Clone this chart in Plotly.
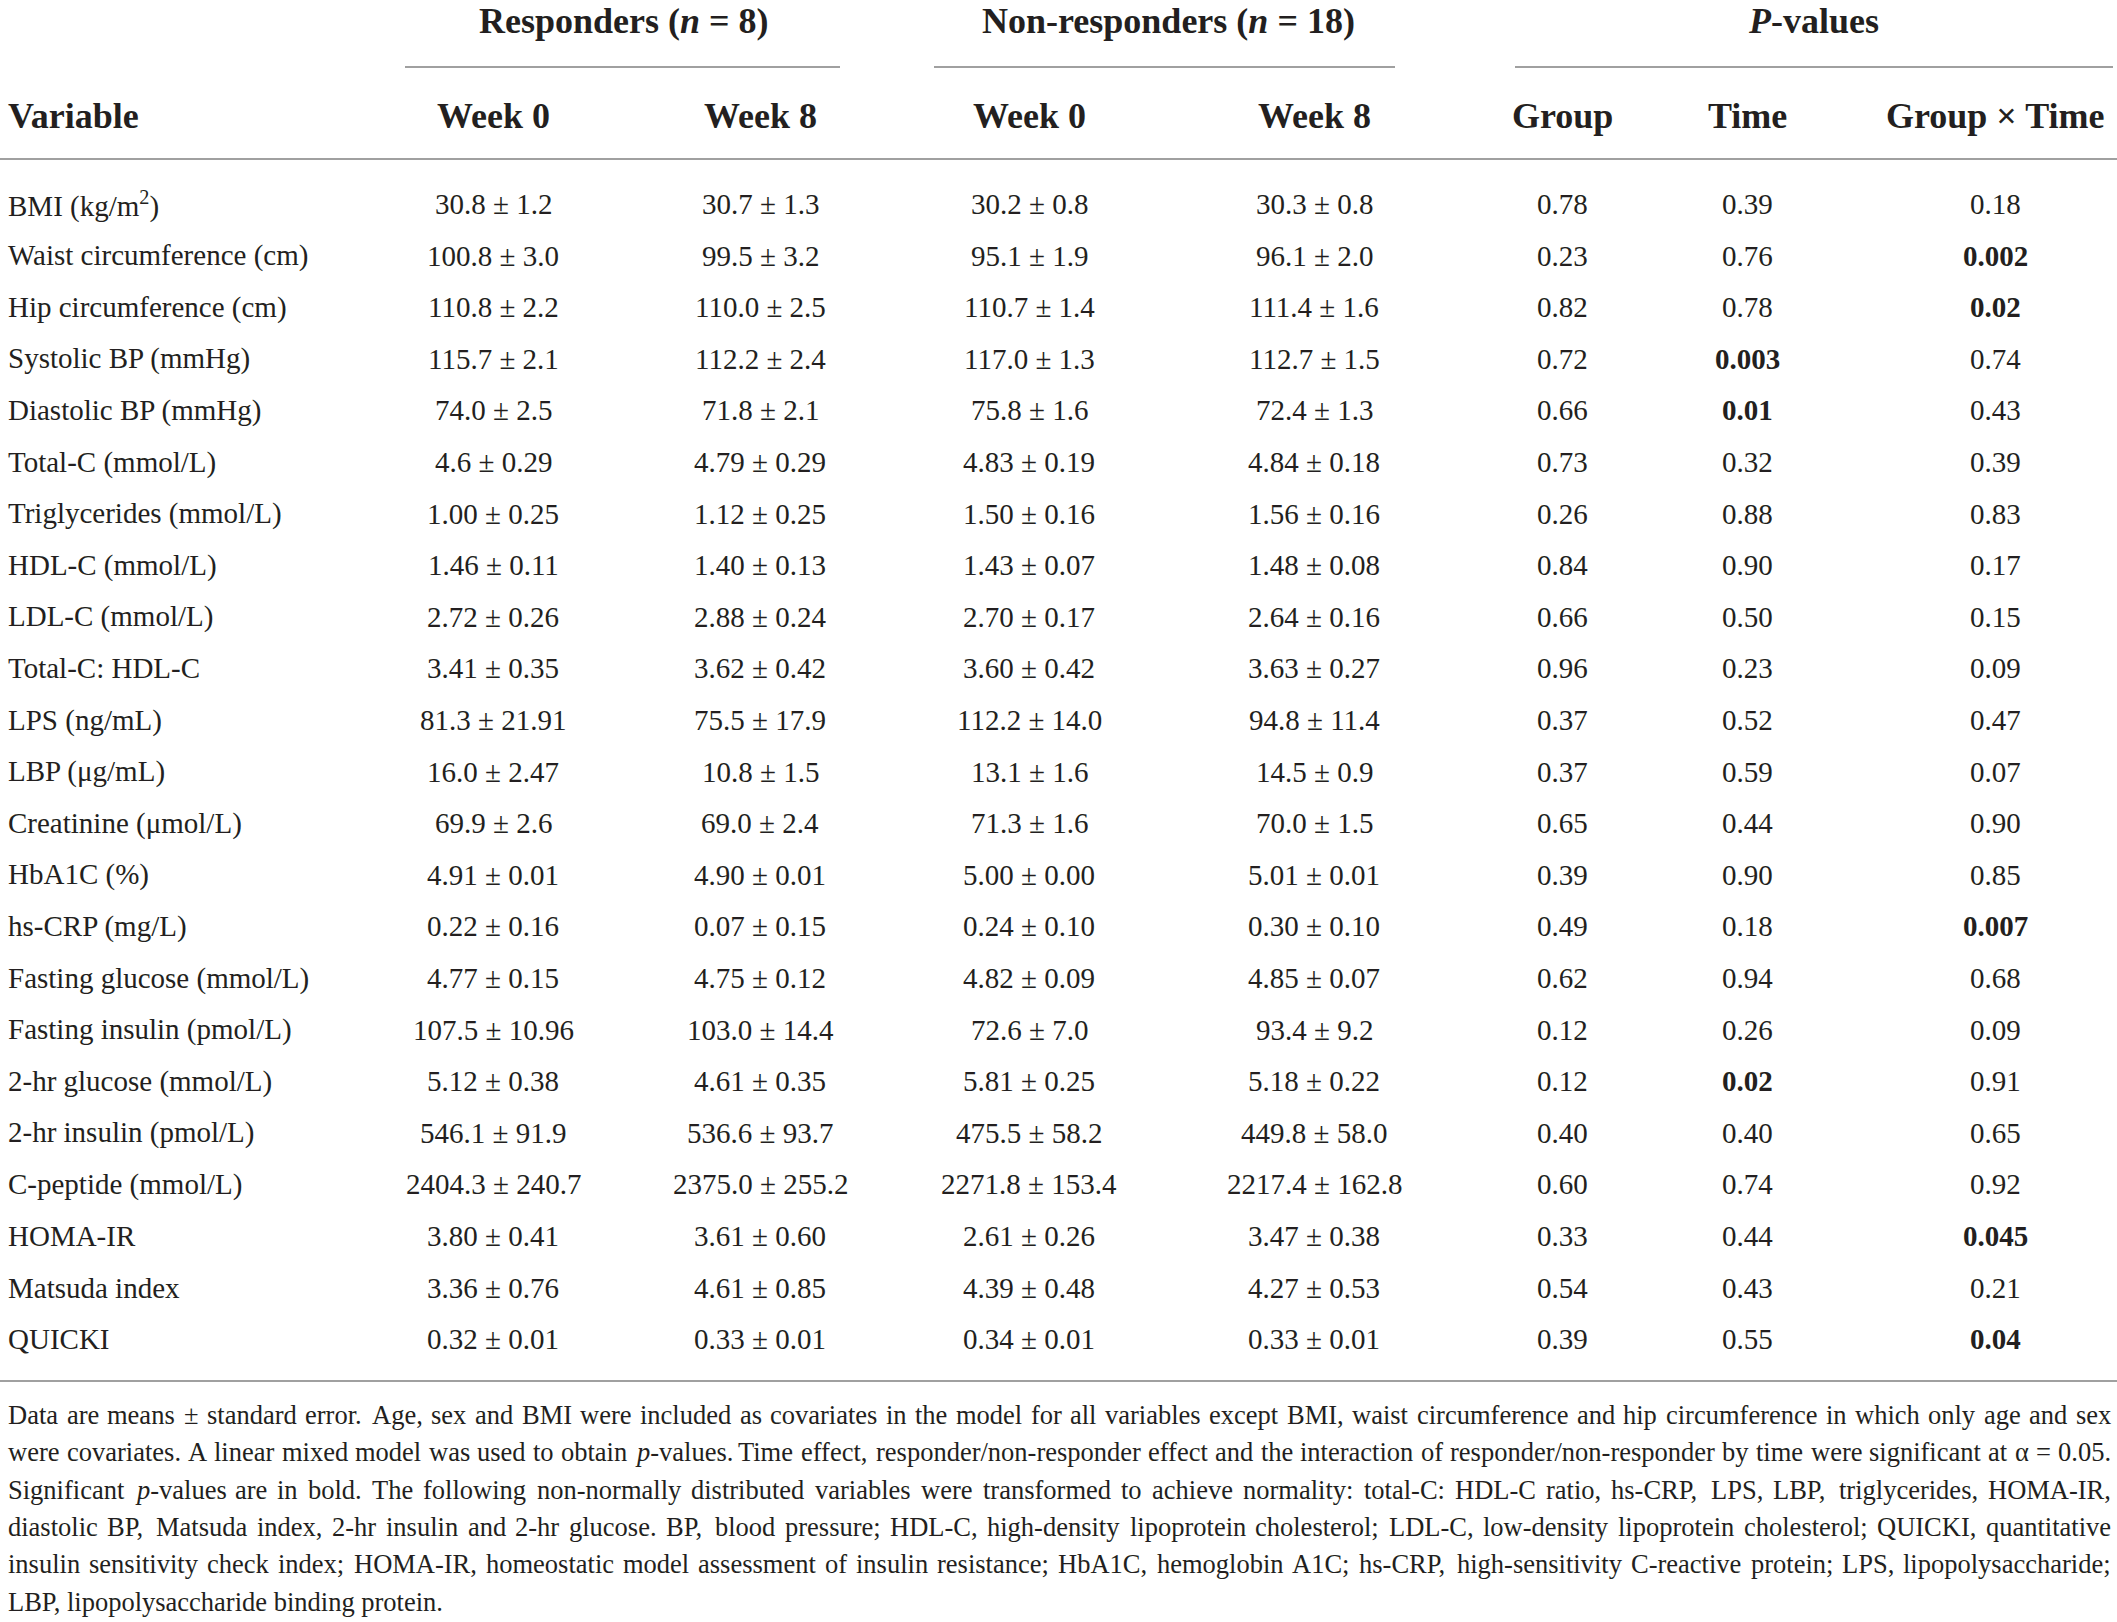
import re
import plotly.graph_objects as go

# ---------------- data ----------------
variables = [
    "BMI (kg/m<sup>2</sup>)", "Waist circumference (cm)", "Hip circumference (cm)",
    "Systolic BP (mmHg)", "Diastolic BP (mmHg)", "Total-C (mmol/L)",
    "Triglycerides (mmol/L)", "HDL-C (mmol/L)", "LDL-C (mmol/L)", "Total-C: HDL-C",
    "LPS (ng/mL)", "LBP (μg/mL)", "Creatinine (μmol/L)", "HbA1C (%)", "hs-CRP (mg/L)",
    "Fasting glucose (mmol/L)", "Fasting insulin (pmol/L)", "2-hr glucose (mmol/L)",
    "2-hr insulin (pmol/L)", "C-peptide (mmol/L)", "HOMA-IR", "Matsuda index", "QUICKI",
]
resp_w0 = ["30.8 ± 1.2", "100.8 ± 3.0", "110.8 ± 2.2", "115.7 ± 2.1", "74.0 ± 2.5",
           "4.6 ± 0.29", "1.00 ± 0.25", "1.46 ± 0.11", "2.72 ± 0.26", "3.41 ± 0.35",
           "81.3 ± 21.91", "16.0 ± 2.47", "69.9 ± 2.6", "4.91 ± 0.01", "0.22 ± 0.16",
           "4.77 ± 0.15", "107.5 ± 10.96", "5.12 ± 0.38", "546.1 ± 91.9",
           "2404.3 ± 240.7", "3.80 ± 0.41", "3.36 ± 0.76", "0.32 ± 0.01"]
resp_w8 = ["30.7 ± 1.3", "99.5 ± 3.2", "110.0 ± 2.5", "112.2 ± 2.4", "71.8 ± 2.1",
           "4.79 ± 0.29", "1.12 ± 0.25", "1.40 ± 0.13", "2.88 ± 0.24", "3.62 ± 0.42",
           "75.5 ± 17.9", "10.8 ± 1.5", "69.0 ± 2.4", "4.90 ± 0.01", "0.07 ± 0.15",
           "4.75 ± 0.12", "103.0 ± 14.4", "4.61 ± 0.35", "536.6 ± 93.7",
           "2375.0 ± 255.2", "3.61 ± 0.60", "4.61 ± 0.85", "0.33 ± 0.01"]
non_w0 = ["30.2 ± 0.8", "95.1 ± 1.9", "110.7 ± 1.4", "117.0 ± 1.3", "75.8 ± 1.6",
          "4.83 ± 0.19", "1.50 ± 0.16", "1.43 ± 0.07", "2.70 ± 0.17", "3.60 ± 0.42",
          "112.2 ± 14.0", "13.1 ± 1.6", "71.3 ± 1.6", "5.00 ± 0.00", "0.24 ± 0.10",
          "4.82 ± 0.09", "72.6 ± 7.0", "5.81 ± 0.25", "475.5 ± 58.2",
          "2271.8 ± 153.4", "2.61 ± 0.26", "4.39 ± 0.48", "0.34 ± 0.01"]
non_w8 = ["30.3 ± 0.8", "96.1 ± 2.0", "111.4 ± 1.6", "112.7 ± 1.5", "72.4 ± 1.3",
          "4.84 ± 0.18", "1.56 ± 0.16", "1.48 ± 0.08", "2.64 ± 0.16", "3.63 ± 0.27",
          "94.8 ± 11.4", "14.5 ± 0.9", "70.0 ± 1.5", "5.01 ± 0.01", "0.30 ± 0.10",
          "4.85 ± 0.07", "93.4 ± 9.2", "5.18 ± 0.22", "449.8 ± 58.0",
          "2217.4 ± 162.8", "3.47 ± 0.38", "4.27 ± 0.53", "0.33 ± 0.01"]
p_group = ["0.78", "0.23", "0.82", "0.72", "0.66", "0.73", "0.26", "0.84", "0.66", "0.96",
           "0.37", "0.37", "0.65", "0.39", "0.49", "0.62", "0.12", "0.12", "0.40", "0.60",
           "0.33", "0.54", "0.39"]
p_time = ["0.39", "0.76", "0.78", "0.003", "0.01", "0.32", "0.88", "0.90", "0.50", "0.23",
          "0.52", "0.59", "0.44", "0.90", "0.18", "0.94", "0.26", "0.02", "0.40", "0.74",
          "0.44", "0.43", "0.55"]
p_gxt = ["0.18", "0.002", "0.02", "0.74", "0.43", "0.39", "0.83", "0.17", "0.15", "0.09",
         "0.47", "0.07", "0.90", "0.85", "0.007", "0.68", "0.09", "0.91", "0.65", "0.92",
         "0.045", "0.21", "0.04"]

group_headers = ["Responders (<i>n</i> = 8)", "Non-responders (<i>n</i> = 18)", "<i>P</i>-values"]
col_headers = ["Week 0", "Week 8", "Week 0", "Week 8", "Group", "Time", "Group × Time"]
alpha = 0.05

footnote = [
    "Data are means ± standard error. Age, sex and BMI were included as covariates in the model for all variables except BMI, waist circumference and hip circumference in which only age and sex",
    "were covariates. A linear mixed model was used to obtain <i>p</i>-values. Time effect, responder/non-responder effect and the interaction of responder/non-responder by time were significant at α = 0.05.",
    "Significant <i>p</i>-values are in bold. The following non-normally distributed variables were transformed to achieve normality: total-C: HDL-C ratio, hs-CRP, LPS, LBP, triglycerides, HOMA-IR,",
    "diastolic BP, Matsuda index, 2-hr insulin and 2-hr glucose. BP, blood pressure; HDL-C, high-density lipoprotein cholesterol; LDL-C, low-density lipoprotein cholesterol; QUICKI, quantitative",
    "insulin sensitivity check index; HOMA-IR, homeostatic model assessment of insulin resistance; HbA1C, hemoglobin A1C; hs-CRP, high-sensitivity C-reactive protein; LPS, lipopolysaccharide;",
    "LBP, lipopolysaccharide binding protein.",
]

# ---------------- layout / style ----------------
W, H = 2117, 1622
FONT = "Liberation Serif"
INK = "#231f20"
RULE = "#a0a0a0"
BODY_SIZE = 29
HEAD_SIZE = 36
NOTE_SIZE = 26.5

col_x = [493, 760, 1029, 1314, 1562, 1747, 1995]
group_x = [624, 1168, 1813]
group_rule = [(405, 840), (934, 1395), (1515, 2113)]
var_x = 7
y_group = 21
y_group_rule = 67
y_head = 116
y_head_rule = 159
row_y0 = 204
row_step = 51.6
y_bottom_rule = 1381
note_x0, note_x1 = 7, 2110
note_y0 = 1415
note_step = 37.3

# Times / Liberation Serif advance widths (1/1000 em) used to justify the note
_w = {" ": 250, ".": 250, ",": 250, ";": 278, ":": 278, "-": 333, "(": 333, ")": 333,
      "/": 278, "=": 564, "±": 564, "α": 520, "%": 833}
for c in "0123456789":
    _w[c] = 500
_w.update(dict(zip("ABCDEFGHIJKLMNOPQRSTUVWXYZ",
                   [722, 667, 667, 722, 611, 556, 722, 722, 333, 389, 722, 611, 889,
                    722, 722, 556, 722, 667, 556, 611, 722, 722, 944, 722, 722, 611])))
_w.update(dict(zip("abcdefghijklmnopqrstuvwxyz",
                   [444, 500, 444, 500, 444, 333, 500, 500, 278, 278, 500, 278, 778,
                    500, 500, 500, 500, 333, 389, 278, 500, 500, 722, 500, 500, 444])))

def text_width(s, size):
    plain = re.sub(r"<[^>]+>", "", s)
    return sum(_w.get(ch, 500) for ch in plain) * size / 1000.0

fig = go.Figure()
ann = []

def add(text, x, y, size, anchor="center", color=INK):
    ann.append(dict(text=text, x=x, y=y, xref="x", yref="y", showarrow=False,
                    xanchor=anchor, yanchor="middle", borderpad=0,
                    font=dict(family=FONT, size=size, color=color)))

for gx, gt in zip(group_x, group_headers):
    add(f"<b>{gt}</b>", gx, y_group, HEAD_SIZE)
add("<b>Variable</b>", var_x, y_head, HEAD_SIZE, anchor="left")
for cx, ct in zip(col_x, col_headers):
    add(f"<b>{ct}</b>", cx, y_head, HEAD_SIZE)

columns = [resp_w0, resp_w8, non_w0, non_w8, p_group, p_time, p_gxt]
for i, var in enumerate(variables):
    y = row_y0 + i * row_step
    add(var, var_x, y, BODY_SIZE, anchor="left")
    for j, col in enumerate(columns):
        txt = col[i]
        if j >= 4 and float(txt) < alpha:
            txt = f"<b>{txt}</b>"
        add(txt, col_x[j], y, BODY_SIZE)

# justified footnote (last line ragged)
for k, line in enumerate(footnote):
    y = note_y0 + k * note_step
    if k == len(footnote) - 1:
        add(line, note_x0, y, NOTE_SIZE, anchor="left")
        continue
    words = line.split(" ")
    widths = [text_width(wd, NOTE_SIZE) for wd in words]
    gap = (note_x1 - note_x0 - sum(widths)) / (len(words) - 1)
    x = note_x0
    for wd, ww in zip(words, widths):
        add(wd, x, y, NOTE_SIZE, anchor="left")
        x += ww + gap

shapes = []
for x0, x1 in group_rule:
    shapes.append(dict(type="line", xref="x", yref="y", x0=x0, x1=x1,
                       y0=y_group_rule, y1=y_group_rule, line=dict(color=RULE, width=2)))
for yy in (y_head_rule, y_bottom_rule):
    shapes.append(dict(type="line", xref="x", yref="y", x0=0, x1=W,
                       y0=yy, y1=yy, line=dict(color=RULE, width=2)))

fig.update_layout(
    width=W, height=H,
    margin=dict(l=0, r=0, t=0, b=0),
    paper_bgcolor="white", plot_bgcolor="white",
    xaxis=dict(range=[0, W], visible=False, fixedrange=True),
    yaxis=dict(range=[H, 0], visible=False, fixedrange=True),
    annotations=ann, shapes=shapes, showlegend=False,
)
fig.write_html(
    "out.html",
    config={"displayModeBar": False, "staticPlot": True},
    post_script="document.body.style.margin='0';document.body.style.overflow='hidden';",
)
